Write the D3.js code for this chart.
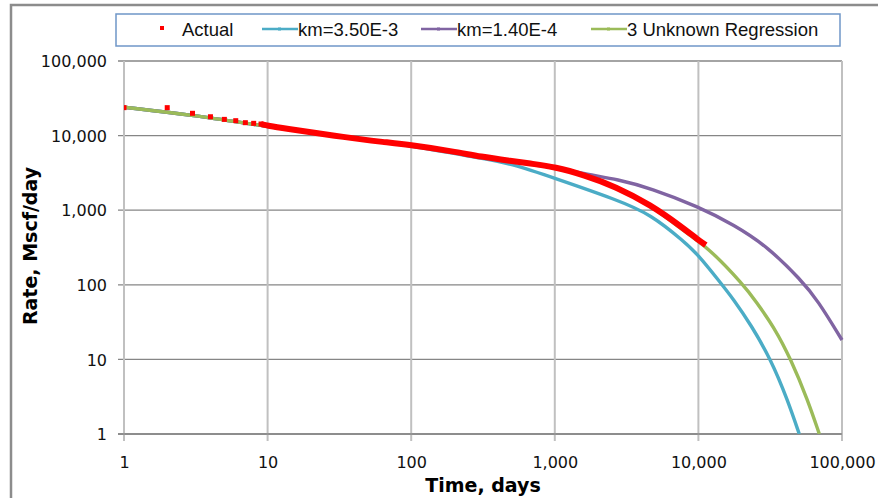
<!DOCTYPE html>
<html>
<head>
<meta charset="utf-8">
<script src="https://cdn.jsdelivr.net/npm/d3@7"></script>
<style>
  body { margin: 0; background: #fff; }
  svg { display: block; }
</style>
</head>
<body>
<div id="chart"></div>
<script>
// tick values (log axes)
const xTicks = [1, 10, 100, 1000, 10000, 100000];
const yTicks = [1, 10, 100, 1000, 10000, 100000];

// Actual: early scattered daily points
const actualDotT = [1, 2, 3, 4, 5, 6, 7, 8, 9];
const actualDotQ = [23700, 23700, 19900, 17900, 16500, 15850, 14900, 14600, 14300];
// Actual: dense part, read along the thick red band
const actualT = [9, 10, 14, 20, 29, 45, 61, 100, 200, 304, 500, 700, 1000, 1596, 2650, 4656, 7540, 10000, 11270];
const actualQ = [14300, 13580, 12300, 11100, 10000, 8900, 8280, 7490, 6100, 5210, 4570, 4180, 3800, 2965, 2080, 1175, 610, 398, 341];

// km=3.50E-3
const kmHighT = [1, 3, 10, 30, 100, 304, 490, 1000, 2729, 4656, 7950, 10000, 13580, 17740, 23210, 32000, 41800, 50400];
const kmHighQ = [24000, 18900, 13200, 9900, 7350, 4970, 4250, 2680, 1371, 880, 380, 250, 120, 62.5, 29, 10, 2.86, 1];

// km=1.40E-4
const kmLowT = [1, 3, 10, 30, 100, 304, 1000, 1700, 2729, 4656, 10000, 17740, 30340, 51800, 67600, 100000];
const kmLowQ = [24000, 18900, 13200, 9900, 7400, 5200, 3750, 3000, 2595, 1968, 1114, 634, 324, 116, 62.5, 18.2];

// 3 Unknown Regression
const regT = [1, 3, 10, 30, 100, 304, 1000, 1596, 2650, 4656, 7950, 11570, 20800, 25100, 33700, 44100, 57700, 69500];
const regQ = [24000, 18900, 13200, 9900, 7450, 5200, 3780, 2960, 2080, 1175, 515, 324, 98, 60, 27, 10, 2.86, 1];

const legendNames = ["Actual", "km=3.50E-3", "km=1.40E-4", "3 Unknown Regression"];
const colors = ["#ff0000", "#4bacc6", "#8064a2", "#9bbb59"];

const W = 878, H = 498;
const plot = { left: 124, right: 842, top: 61, bottom: 434 };

const svg = d3.select("#chart").append("svg")
    .attr("width", W)
    .attr("height", H);

// outer chart frame
svg.append("rect")
    .attr("x", 11).attr("y", 5)
    .attr("width", 900).attr("height", 600)
    .attr("fill", "#fff")
    .attr("stroke", "#8c8c8c")
    .attr("stroke-width", 2.5);

const x = d3.scaleLog().domain([1, 100000]).range([plot.left, plot.right]);
const y = d3.scaleLog().domain([1, 100000]).range([plot.bottom, plot.top]);

const zip = (ts, qs) => ts.map((t, i) => ({ t: t, q: qs[i] }));

// grid
svg.append("g").selectAll("line")
    .data(yTicks)
  .enter().append("line")
    .attr("x1", plot.left - 6).attr("x2", plot.right)
    .attr("y1", d => y(d)).attr("y2", d => y(d))
    .attr("stroke", "#868686")
    .attr("stroke-width", 1.3);

svg.append("g").selectAll("line")
    .data(xTicks)
  .enter().append("line")
    .attr("x1", d => x(d)).attr("x2", d => x(d))
    .attr("y1", plot.top).attr("y2", plot.bottom + 7)
    .attr("stroke", "#c0c0c0")
    .attr("stroke-width", 2);

// x-axis baseline on top of the vertical lines
svg.append("line")
    .attr("x1", plot.left - 6).attr("x2", plot.right)
    .attr("y1", y(1)).attr("y2", y(1))
    .attr("stroke", "#868686")
    .attr("stroke-width", 1.3);

// axes (labels only)
const xAxis = svg.append("g")
    .attr("transform", "translate(0," + plot.bottom + ")")
    .call(d3.axisBottom(x).tickValues(xTicks).tickFormat(d3.format(",")).tickSize(0).tickPadding(0));
xAxis.select(".domain").remove();
xAxis.selectAll("text")
    .attr("y", 34).attr("dy", null)
    .style("font-family", "DejaVu Sans")
    .style("font-size", "16px")
    .attr("fill", "#111");

const yAxis = svg.append("g")
    .attr("transform", "translate(107,0)")
    .call(d3.axisLeft(y).tickValues(yTicks).tickFormat(d3.format(",")).tickSize(0).tickPadding(0));
yAxis.select(".domain").remove();
yAxis.selectAll("text")
    .attr("x", 0).attr("dy", "0.36em")
    .style("font-family", "DejaVu Sans")
    .style("font-size", "16px")
    .attr("fill", "#111");

// axis titles
svg.append("text")
    .attr("x", 483).attr("y", 492)
    .attr("text-anchor", "middle")
    .style("font-family", "DejaVu Sans")
    .style("font-weight", "bold")
    .style("font-size", "19px")
    .text("Time, days");

svg.append("text")
    .attr("transform", "translate(37,246)rotate(-90)")
    .attr("text-anchor", "middle")
    .style("font-family", "DejaVu Sans")
    .style("font-weight", "bold")
    .style("font-size", "19px")
    .text("Rate, Mscf/day");

// series
svg.append("clipPath").attr("id", "clip")
  .append("rect")
    .attr("x", plot.left).attr("y", plot.top - 2)
    .attr("width", plot.right - plot.left + 2)
    .attr("height", plot.bottom - plot.top + 2);

const line = d3.line()
    .x(d => x(d.t))
    .y(d => y(d.q))
    .curve(d3.curveBasis);

const g = svg.append("g").attr("clip-path", "url(#clip)");

const models = [zip(kmHighT, kmHighQ), zip(kmLowT, kmLowQ), zip(regT, regQ)];
models.forEach((m, i) => {
  g.append("path")
      .datum(m)
      .attr("fill", "none")
      .attr("stroke", colors[i + 1])
      .attr("stroke-width", 3.4)
      .attr("d", line);
});

g.append("path")
    .datum(zip(actualT, actualQ))
    .attr("fill", "none")
    .attr("stroke", colors[0])
    .attr("stroke-width", 6)
    .attr("stroke-linejoin", "round")
    .attr("d", line);

g.selectAll(".dot")
    .data(zip(actualDotT, actualDotQ))
  .enter().append("rect")
    .attr("x", d => x(d.t) - 2.5)
    .attr("y", d => y(d.q) - 2.5)
    .attr("width", 5).attr("height", 5)
    .attr("fill", colors[0]);

// legend
svg.append("rect")
    .attr("x", 116).attr("y", 14)
    .attr("width", 724).attr("height", 32)
    .attr("fill", "#fff")
    .attr("stroke", "#6f96c8")
    .attr("stroke-width", 1.5);

const legendPos = [182, 298, 457, 627];
const lg = svg.append("g");
legendNames.forEach((name, i) => {
  const tx = legendPos[i];
  if (i === 0) {
    lg.append("rect")
        .attr("x", 160).attr("y", 26)
        .attr("width", 4).attr("height", 4)
        .attr("fill", colors[0]);
  } else {
    lg.append("line")
        .attr("x1", tx - 36).attr("x2", tx)
        .attr("y1", 29).attr("y2", 29)
        .attr("stroke", colors[i])
        .attr("stroke-width", 2.5);
    lg.append("rect")
        .attr("x", tx - 20).attr("y", 27.5)
        .attr("width", 3).attr("height", 3)
        .attr("fill", colors[i]);
  }
  lg.append("text")
      .attr("x", tx).attr("y", 36)
      .style("font-family", "Liberation Sans")
      .style("font-size", "18.5px")
      .attr("fill", "#111")
      .text(name);
});
</script>
</body>
</html>
